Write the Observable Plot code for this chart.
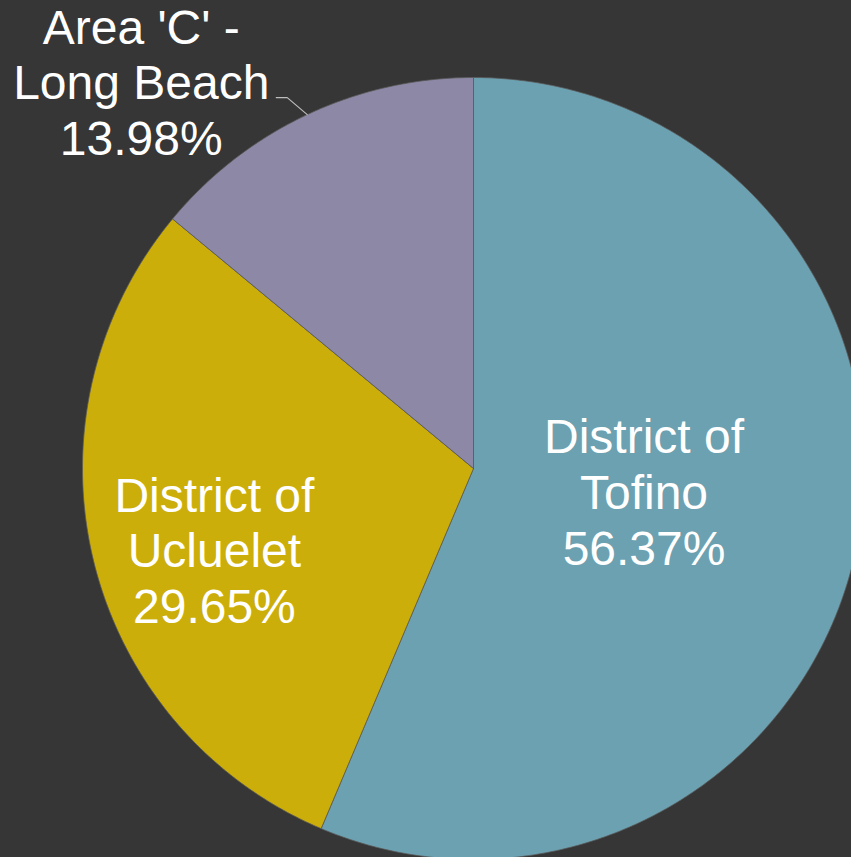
<!DOCTYPE html>
<html>
<head>
<meta charset="utf-8">
<script src="https://cdn.jsdelivr.net/npm/d3@7"></script>
<script src="https://cdn.jsdelivr.net/npm/@observablehq/plot@0.6"></script>
<style>
  html, body { margin: 0; padding: 0; background: #363636; overflow: hidden; }
  #chart svg { display: block; background: #363636; }
</style>
</head>
<body>
<div id="chart"></div>
<script>
// Data
const categories = ["District of Tofino", "District of Ucluelet", "Area 'C' - Long Beach"];
const labelTexts = ["District of\nTofino", "District of\nUcluelet", "Area 'C' -\nLong Beach"];
const values = [56.37, 29.65, 13.98];

// Styles
const colors = ["#6ca1b1", "#ccae0b", "#8c88a6"];
const W = 851, H = 857, CX = 473, CY = 468, R = 391;
const FONT = "'Liberation Sans', Arial, sans-serif";
const FS = 48, LH = 1.16;

const total = d3.sum(values);
// slices start at 12 o'clock and go clockwise
let acc = 0;
const slices = values.map((v, i) => {
  const a0 = acc / total * 2 * Math.PI;
  acc += v;
  const a1 = acc / total * 2 * Math.PI;
  return {name: categories[i], label: labelTexts[i], value: v, a0, a1, mid: (a0 + a1) / 2};
});

// polygon points for each slice in unit-circle data coords
const polyPts = [];
for (const s of slices) {
  polyPts.push({name: s.name, x: 0, y: 0});
  const n = Math.max(2, Math.ceil((s.a1 - s.a0) / (Math.PI / 360)));
  for (let k = 0; k <= n; k++) {
    const a = s.a0 + (s.a1 - s.a0) * k / n;
    polyPts.push({name: s.name, x: Math.sin(a), y: Math.cos(a)});
  }
  polyPts.push({name: s.name, x: 0, y: 0});
}

// label placement (inside for large slices, outside for the small one); offsets in px
const place = [
  {r: 0.445, dx: 0, dy: -12},
  {r: 0.69, dx: 3, dy: 17},
  null
];
const inLabels = slices.map((s, i) => ({...s, i})).filter(s => place[s.i]).map(s => ({
  x: place[s.i].r * Math.sin(s.mid) + place[s.i].dx / R,
  y: place[s.i].r * Math.cos(s.mid) - place[s.i].dy / R,
  text: s.label + "\n" + s.value.toFixed(2) + "%"
}));

const small = slices[2];
const ex = Math.sin(small.mid), ey = Math.cos(small.mid);
const leader = [
  {x: ex, y: ey},
  {x: ex - 20 / R, y: ey + 17 / R},
  {x: ex - 31 / R, y: ey + 17 / R}
];
const outLabel = [{
  x: ex - 166 / R,
  y: ey + 33 / R,
  text: small.label + "\n" + small.value.toFixed(2) + "%"
}];

const chart = Plot.plot({
  width: W,
  height: H,
  margin: 0,
  x: {domain: [-1, 1], range: [CX - R, CX + R], axis: null},
  y: {domain: [-1, 1], range: [CY + R, CY - R], axis: null},
  color: {domain: categories, range: colors},
  style: {background: "#363636"},
  marks: [
    Plot.line(polyPts, {x: "x", y: "y", z: "name", fill: "name", stroke: "#5a5a5a", strokeWidth: 0.75, curve: "linear"}),
    Plot.line(leader, {x: "x", y: "y", stroke: "#bdbdbd", strokeWidth: 1.2}),
    Plot.text(inLabels, {x: "x", y: "y", text: "text", fill: "white", fontSize: FS, lineHeight: LH, fontFamily: FONT}),
    Plot.text(outLabel, {x: "x", y: "y", text: "text", fill: "white", fontSize: FS, lineHeight: LH, fontFamily: FONT})
  ]
});
document.getElementById("chart").appendChild(chart);
</script>
</body>
</html>
